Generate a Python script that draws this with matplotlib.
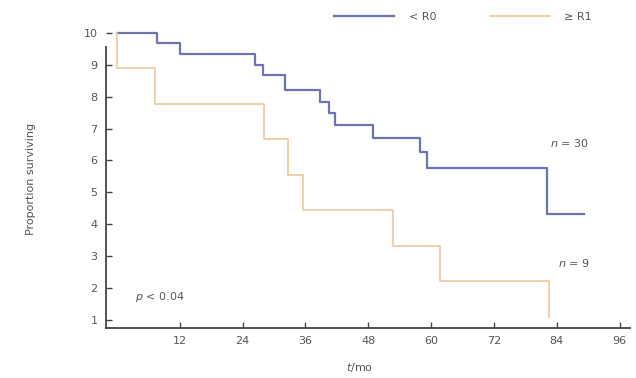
import matplotlib
matplotlib.use("Agg")
import matplotlib.pyplot as plt

# Data
t_r0 = [0, 7.6, 12, 26.3, 27.9, 32.1, 38.7, 40.5, 41.6, 48.9, 57.8, 59.2, 82.1, 89.3]
s_r0 = [10, 9.67, 9.33, 9.0, 8.67, 8.2, 7.83, 7.5, 7.1, 6.7, 6.27, 5.77, 4.33, 4.33]
t_r1 = [0, 0, 7.3, 28.0, 32.7, 35.6, 52.7, 61.7, 82.6]
s_r1 = [10, 8.89, 7.78, 6.67, 5.56, 4.44, 3.33, 2.22, 1.11]
x_ticks = [12, 24, 36, 48, 60, 72, 84, 96]
y_ticks = [1, 2, 3, 4, 5, 6, 7, 8, 9, 10]
labels = ["< R0", "≥ R1"]

blue = "#6e73b2"
orange = "#f1cba6"
txt = "#555555"

fig = plt.figure(figsize=(6.36, 3.78), dpi=100)
ax = fig.add_axes([106/636, 1-328/378, (630-106)/636, (328-30)/378])

l1, = ax.step(t_r0, s_r0, where="post", color=blue, lw=1.6, label=labels[0])
l2, = ax.step(t_r1, s_r1, where="post", color=orange, lw=1.3, label=labels[1])

ax.set_xlim(-2.1, 98)
ax.set_ylim(0.75, 10.09)
ax.set_xticks(x_ticks)
ax.set_yticks(y_ticks)
for s in ["top", "right"]:
    ax.spines[s].set_visible(False)
ax.spines["left"].set_bounds(0.75, 9.56)
for s in ["left", "bottom"]:
    ax.spines[s].set_color("#444444")
    ax.spines[s].set_linewidth(1.3)
ax.tick_params(axis="both", direction="in", length=4, width=1, color="#444444",
               labelsize=8, labelcolor=txt, pad=6)

ax.set_ylabel("Proportion surviving", fontsize=8, color=txt, labelpad=34)
fig.text(360/636, 1-368/378, "$t$/mo", fontsize=8, color=txt, ha="center", va="center")

ax.text(82.7, 6.55, "$n$ = 30", fontsize=8, color=txt, ha="left", va="center")
ax.text(84.2, 2.8, "$n$ = 9", fontsize=8, color=txt, ha="left", va="center")
ax.text(3.4, 1.72, "$p$ < 0.04", fontsize=8, color=txt, ha="left", va="center")

leg = ax.legend(handles=[l1, l2], ncol=2, frameon=False, fontsize=8,
                handlelength=5.4, columnspacing=4.8, handletextpad=1.3,
                loc="center", bbox_to_anchor=(463/636, 1-17/378),
                bbox_transform=fig.transFigure)
for t in leg.get_texts():
    t.set_color(txt)

fig.savefig("out.png", dpi=100)
